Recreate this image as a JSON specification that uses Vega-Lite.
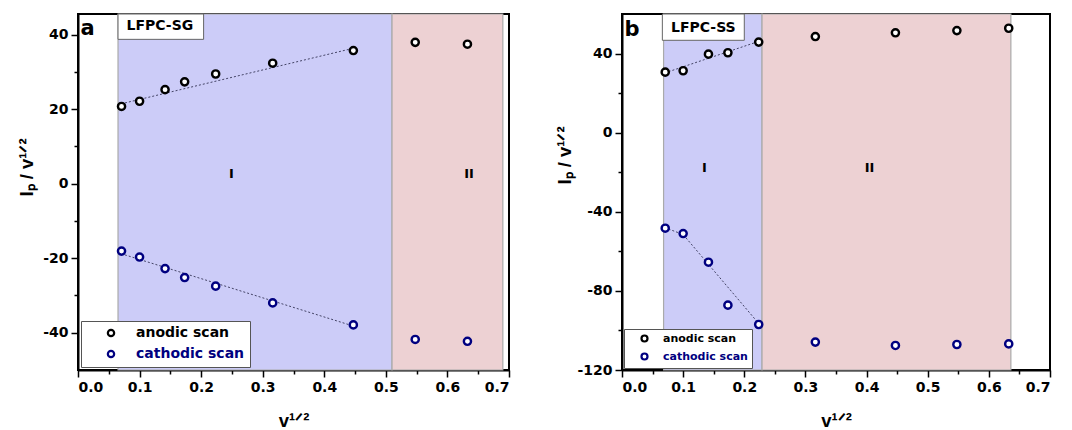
{
  "$schema": "https://vega.github.io/schema/vega-lite/v6.json",
  "padding": {"left": 16, "top": 12, "right": 0, "bottom": 0},
  "spacing": 43,
  "background": "white",
  "resolve": {"scale": {"color": "independent"}, "legend": {"color": "independent"}},
  "config": {
    "font": "DejaVu Sans",
    "view": {"stroke": "black", "strokeWidth": 2},
    "axis": {
      "grid": false, "domainColor": "black", "domainWidth": 2, "tickColor": "black", "tickWidth": 1.5,
      "tickSize": 7, "labelPadding": 3, "labelFont": "DejaVu Sans", "labelFontWeight": "bold",
      "labelFontSize": 14, "labelColor": "black", "titleFont": "Liberation Sans", "titleFontWeight": "bold",
      "titleFontSize": 18.5, "titleColor": "black"
    },
    "legend": {
      "labelFont": "DejaVu Sans", "labelFontWeight": "bold"
    }
  },
  "datasets": {
    "pointsA": [
      {"scan": "anodic scan", "x": 0.0707, "y": 20.7},
      {"scan": "anodic scan", "x": 0.1, "y": 22.1},
      {"scan": "anodic scan", "x": 0.1414, "y": 25.2},
      {"scan": "anodic scan", "x": 0.1732, "y": 27.3},
      {"scan": "anodic scan", "x": 0.2236, "y": 29.4},
      {"scan": "anodic scan", "x": 0.3162, "y": 32.3},
      {"scan": "anodic scan", "x": 0.4472, "y": 35.7},
      {"scan": "anodic scan", "x": 0.5477, "y": 37.9},
      {"scan": "anodic scan", "x": 0.6325, "y": 37.4},
      {"scan": "cathodic scan", "x": 0.0707, "y": -18.1},
      {"scan": "cathodic scan", "x": 0.1, "y": -19.7},
      {"scan": "cathodic scan", "x": 0.1414, "y": -22.8},
      {"scan": "cathodic scan", "x": 0.1732, "y": -25.2},
      {"scan": "cathodic scan", "x": 0.2236, "y": -27.5},
      {"scan": "cathodic scan", "x": 0.3162, "y": -32.0},
      {"scan": "cathodic scan", "x": 0.4472, "y": -37.9},
      {"scan": "cathodic scan", "x": 0.5477, "y": -41.8},
      {"scan": "cathodic scan", "x": 0.6325, "y": -42.3}
    ],
    "fitA": [
      {"scan": "anodic scan", "x": 0.07, "y": 21.4},
      {"scan": "anodic scan", "x": 0.447, "y": 36.3},
      {"scan": "cathodic scan", "x": 0.07, "y": -18.8},
      {"scan": "cathodic scan", "x": 0.447, "y": -38.2}
    ],
    "regionsA": [
      {"region": "I", "x0": 0.065, "x1": 0.51},
      {"region": "II", "x0": 0.51, "x1": 0.69}
    ],
    "pointsB": [
      {"scan": "anodic scan", "x": 0.0707, "y": 30.6},
      {"scan": "anodic scan", "x": 0.1, "y": 31.3},
      {"scan": "anodic scan", "x": 0.1414, "y": 39.7},
      {"scan": "anodic scan", "x": 0.1732, "y": 40.4},
      {"scan": "anodic scan", "x": 0.2236, "y": 45.8},
      {"scan": "anodic scan", "x": 0.3162, "y": 48.6},
      {"scan": "anodic scan", "x": 0.4472, "y": 50.5},
      {"scan": "anodic scan", "x": 0.5477, "y": 51.6},
      {"scan": "anodic scan", "x": 0.6325, "y": 52.8},
      {"scan": "cathodic scan", "x": 0.0707, "y": -48.3},
      {"scan": "cathodic scan", "x": 0.1, "y": -51.0},
      {"scan": "cathodic scan", "x": 0.1414, "y": -65.5},
      {"scan": "cathodic scan", "x": 0.1732, "y": -87.2},
      {"scan": "cathodic scan", "x": 0.2236, "y": -97.0},
      {"scan": "cathodic scan", "x": 0.3162, "y": -105.9},
      {"scan": "cathodic scan", "x": 0.4472, "y": -107.6},
      {"scan": "cathodic scan", "x": 0.5477, "y": -107.1},
      {"scan": "cathodic scan", "x": 0.6325, "y": -106.8}
    ],
    "fitB": [
      {"scan": "anodic scan", "x": 0.07, "y": 30.2},
      {"scan": "anodic scan", "x": 0.225, "y": 46.3},
      {"scan": "cathodic scan", "x": 0.07, "y": -48.0},
      {"scan": "cathodic scan", "x": 0.1, "y": -51.5},
      {"scan": "cathodic scan", "x": 0.225, "y": -97.0}
    ],
    "regionsB": [
      {"region": "I", "x0": 0.068, "x1": 0.229},
      {"region": "II", "x0": 0.229, "x1": 0.636}
    ],
    "one": [{}]
  },
  "hconcat": [
    {
      "width": 431,
      "height": 356,
      "resolve": {"axis": {"x": "independent", "y": "independent"}},
      "layer": [
        {
          "data": {"name": "regionsA"},
          "mark": {"type": "rect", "stroke": "#aaaaaa", "strokeWidth": 1.2},
          "encoding": {
            "x": {"field": "x0", "type": "quantitative", "scale": {"domain": [0, 0.7], "nice": false}, "axis": null},
            "x2": {"field": "x1"},
            "fill": {"field": "region", "type": "nominal", "scale": {"domain": ["I", "II"], "range": ["#CCCCF8", "#EDD1D3"]}, "legend": null}
          }
        },
        {
          "data": {"name": "fitA"},
          "mark": {"type": "line", "strokeDash": [2, 2], "strokeWidth": 1, "color": "#444466"},
          "encoding": {
            "x": {"field": "x", "type": "quantitative", "scale": {"domain": [0, 0.7], "nice": false},
                  "axis": {"orient": "bottom", "values": [0.05, 0.15, 0.25, 0.35, 0.45, 0.55, 0.65], "labels": false, "domain": false, "tickSize": 4, "title": null}},
            "y": {"field": "y", "type": "quantitative", "scale": {"domain": [-50, 45.5], "nice": false, "zero": false},
                  "axis": {"orient": "left", "values": [-30, -10, 10, 30], "labels": false, "domain": false, "tickSize": 4, "title": null}},
            "detail": {"field": "scan"}
          }
        },
        {
          "data": {"name": "pointsA"},
          "mark": {"type": "point", "shape": "circle", "filled": false, "fill": "white", "strokeWidth": 2.4, "size": 52, "opacity": 1},
          "encoding": {
            "x": {"field": "x", "type": "quantitative", "scale": {"domain": [0, 0.7], "nice": false},
                  "axis": {"orient": "bottom", "values": [0, 0.1, 0.2, 0.3, 0.4, 0.5, 0.6, 0.7], "format": ".1f", "title": "v¹ᐟ²", "titlePadding": 17, "labelOverlap": false}},
            "y": {"field": "y", "type": "quantitative", "scale": {"domain": [-50, 45.5], "nice": false, "zero": false},
                  "axis": {"orient": "left", "values": [-40, -20, 0, 20, 40], "labelExpr": "replace(datum.label, '−', '-')", "title": "Iₚ / v¹ᐟ²", "titlePadding": 6, "titleY": 153}},
            "color": {
              "field": "scan", "type": "nominal",
              "scale": {"domain": ["anodic scan", "cathodic scan"], "range": ["#000000", "#000080"]},
              "legend": {
                "title": null, "orient": "bottom-left", "offset": 3, "fillColor": "white", "strokeColor": "#555555",
                "padding": 5, "symbolType": "circle", "symbolSize": 40, "symbolStrokeWidth": 2.2, "symbolFillColor": "white",
                "symbolOffset": 18, "labelOffset": 18, "labelFontSize": 14, "rowPadding": 5,
                "labelColor": {"expr": "datum.label == 'cathodic scan' ? '#000080' : '#000000'"}
              }
            }
          }
        },
        {
          "data": {"name": "one"},
          "mark": {"type": "text", "text": "I", "fontSize": 13, "fontWeight": "bold", "color": "black"},
          "encoding": {
            "x": {"datum": 0.249, "type": "quantitative", "scale": {"domain": [0, 0.7], "nice": false}, "axis": null},
            "y": {"datum": 2.5, "type": "quantitative", "scale": {"domain": [-50, 45.5], "nice": false, "zero": false}, "axis": null}
          }
        },
        {
          "data": {"name": "one"},
          "mark": {"type": "text", "text": "II", "fontSize": 13, "fontWeight": "bold", "color": "black"},
          "encoding": {
            "x": {"datum": 0.635, "type": "quantitative", "axis": null},
            "y": {"datum": 2.5, "type": "quantitative", "axis": null}
          }
        },
        {
          "data": {"name": "one"},
          "mark": {"type": "rect", "fill": "white", "stroke": "#666666", "strokeWidth": 1},
          "encoding": {
            "x": {"datum": 0.065, "type": "quantitative", "axis": null},
            "x2": {"datum": 0.204},
            "y": {"datum": 38.7, "type": "quantitative", "axis": null},
            "y2": {"datum": 45.5}
          }
        },
        {
          "data": {"name": "one"},
          "mark": {"type": "text", "text": "LFPC-SG", "fontSize": 14, "fontWeight": "bold", "color": "black"},
          "encoding": {
            "x": {"datum": 0.133, "type": "quantitative", "axis": null},
            "y": {"datum": 42.2, "type": "quantitative", "axis": null}
          }
        },
        {
          "data": {"name": "one"},
          "mark": {"type": "text", "text": "a", "fontSize": 21, "fontWeight": "bold", "color": "black", "align": "left", "baseline": "alphabetic"},
          "encoding": {
            "x": {"datum": 0.004, "type": "quantitative", "axis": null},
            "y": {"datum": 40, "type": "quantitative", "axis": null}
          }
        }
      ]
    },
    {
      "width": 428,
      "height": 356,
      "resolve": {"axis": {"x": "independent", "y": "independent"}},
      "layer": [
        {
          "data": {"name": "regionsB"},
          "mark": {"type": "rect", "stroke": "#aaaaaa", "strokeWidth": 1.2},
          "encoding": {
            "x": {"field": "x0", "type": "quantitative", "scale": {"domain": [0, 0.7], "nice": false}, "axis": null},
            "x2": {"field": "x1"},
            "fill": {"field": "region", "type": "nominal", "scale": {"domain": ["I", "II"], "range": ["#CCCCF8", "#EDD1D3"]}, "legend": null}
          }
        },
        {
          "data": {"name": "fitB"},
          "mark": {"type": "line", "strokeDash": [2, 2], "strokeWidth": 1, "color": "#444466"},
          "encoding": {
            "x": {"field": "x", "type": "quantitative", "scale": {"domain": [0, 0.7], "nice": false},
                  "axis": {"orient": "bottom", "values": [0.05, 0.15, 0.25, 0.35, 0.45, 0.55, 0.65], "labels": false, "domain": false, "tickSize": 4, "title": null}},
            "y": {"field": "y", "type": "quantitative", "scale": {"domain": [-120, 60], "nice": false, "zero": false},
                  "axis": {"orient": "left", "values": [-100, -60, -20, 20], "labels": false, "domain": false, "tickSize": 4, "title": null}},
            "detail": {"field": "scan"}
          }
        },
        {
          "data": {"name": "pointsB"},
          "mark": {"type": "point", "shape": "circle", "filled": false, "fill": "white", "strokeWidth": 2.4, "size": 52, "opacity": 1},
          "encoding": {
            "x": {"field": "x", "type": "quantitative", "scale": {"domain": [0, 0.7], "nice": false},
                  "axis": {"orient": "bottom", "values": [0, 0.1, 0.2, 0.3, 0.4, 0.5, 0.6, 0.7], "format": ".1f", "title": "v¹ᐟ²", "titlePadding": 17, "labelOverlap": false}},
            "y": {"field": "y", "type": "quantitative", "scale": {"domain": [-120, 60], "nice": false, "zero": false},
                  "axis": {"orient": "left", "values": [-120, -80, -40, 0, 40], "labelExpr": "replace(datum.label, '−', '-')", "title": "Iₚ / v¹ᐟ²", "titlePadding": 2, "titleY": 141}},
            "color": {
              "field": "scan", "type": "nominal",
              "scale": {"domain": ["anodic scan", "cathodic scan"], "range": ["#000000", "#000080"]},
              "legend": {
                "title": null, "orient": "bottom-left", "offset": 2, "fillColor": "white", "strokeColor": "#555555",
                "padding": 4, "symbolType": "circle", "symbolSize": 36, "symbolStrokeWidth": 2.2, "symbolFillColor": "white",
                "symbolOffset": 11, "labelOffset": 13, "labelFontSize": 11, "rowPadding": 3,
                "labelColor": {"expr": "datum.label == 'cathodic scan' ? '#000080' : '#000000'"}
              }
            }
          }
        },
        {
          "data": {"name": "one"},
          "mark": {"type": "text", "text": "I", "fontSize": 13, "fontWeight": "bold", "color": "black"},
          "encoding": {
            "x": {"datum": 0.135, "type": "quantitative", "scale": {"domain": [0, 0.7], "nice": false}, "axis": null},
            "y": {"datum": -18, "type": "quantitative", "scale": {"domain": [-120, 60], "nice": false, "zero": false}, "axis": null}
          }
        },
        {
          "data": {"name": "one"},
          "mark": {"type": "text", "text": "II", "fontSize": 13, "fontWeight": "bold", "color": "black"},
          "encoding": {
            "x": {"datum": 0.405, "type": "quantitative", "axis": null},
            "y": {"datum": -18, "type": "quantitative", "axis": null}
          }
        },
        {
          "data": {"name": "one"},
          "mark": {"type": "rect", "fill": "white", "stroke": "#666666", "strokeWidth": 1},
          "encoding": {
            "x": {"datum": 0.066, "type": "quantitative", "axis": null},
            "x2": {"datum": 0.2},
            "y": {"datum": 46.7, "type": "quantitative", "axis": null},
            "y2": {"datum": 60}
          }
        },
        {
          "data": {"name": "one"},
          "mark": {"type": "text", "text": "LFPC-SS", "fontSize": 14, "fontWeight": "bold", "color": "black"},
          "encoding": {
            "x": {"datum": 0.133, "type": "quantitative", "axis": null},
            "y": {"datum": 53, "type": "quantitative", "axis": null}
          }
        },
        {
          "data": {"name": "one"},
          "mark": {"type": "text", "text": "b", "fontSize": 21, "fontWeight": "bold", "color": "black", "align": "left", "baseline": "alphabetic"},
          "encoding": {
            "x": {"datum": 0.004, "type": "quantitative", "axis": null},
            "y": {"datum": 48.7, "type": "quantitative", "axis": null}
          }
        }
      ]
    }
  ]
}
